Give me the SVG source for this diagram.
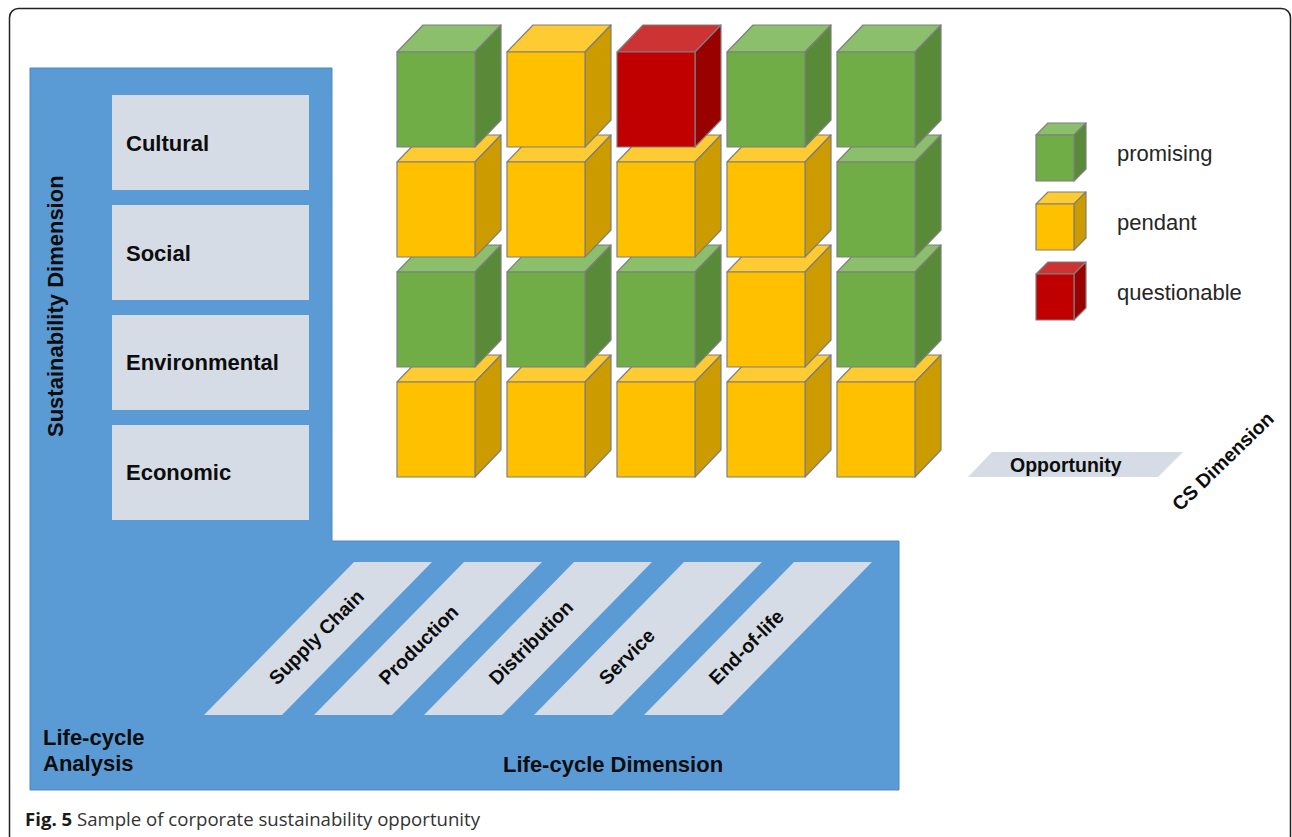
<svg xmlns="http://www.w3.org/2000/svg" width="1292" height="837" viewBox="0 0 1292 837">
<defs>
<style>
.lbl{font-family:"Liberation Sans",Arial,sans-serif;font-weight:bold;font-size:22px;fill:#0d0d0d}
.rot{font-family:"Liberation Sans",Arial,sans-serif;font-weight:bold;font-size:19.5px;fill:#0d0d0d}
.leg{font-family:"Liberation Sans",Arial,sans-serif;font-size:22px;fill:#262626}
.box{fill:#D6DCE5}
.cube polygon{stroke:#7f7f7f;stroke-width:1.2;stroke-linejoin:round}
.g .f{fill:#70AD47}.g .t{fill:#8CBF6B}.g .s{fill:#588A38}
.y .f{fill:#FFC000}.y .t{fill:#FFCB33}.y .s{fill:#CC9B00}
.r .f{fill:#C00000}.r .t{fill:#CD3333}.r .s{fill:#990000}
</style>
</defs>
<rect width="1292" height="837" fill="#ffffff"/>
<rect id="frame" x="9.5" y="8.5" width="1281" height="836" rx="9" fill="none" stroke="#222" stroke-width="1.5"/>

<g id="lifecycle-analysis">
<polygon points="30,68 332,68 332,541 899,541 899,790 30,790" fill="#5B9BD5" stroke="#4F87C0" stroke-width="1"/>
<text class="lbl" x="43" y="745">Life-cycle</text>
<text class="lbl" x="43" y="771">Analysis</text>
</g>
<g id="sustainability-dimension">
<text class="lbl" transform="translate(63,437) rotate(-90)">Sustainability Dimension</text>
</g>
<g id="cultural"><rect class="box" x="112" y="95" width="197" height="95"/><text class="lbl" x="126" y="151">Cultural</text></g>
<g id="social"><rect class="box" x="112" y="205" width="197" height="95"/><text class="lbl" x="126" y="261">Social</text></g>
<g id="environmental"><rect class="box" x="112" y="315" width="197" height="95"/><text class="lbl" x="126" y="370">Environmental</text></g>
<g id="economic"><rect class="box" x="112" y="425" width="197" height="95"/><text class="lbl" x="126" y="480">Economic</text></g>

<g id="supply-chain"><polygon class="box" points="204,715 282,715 432,562 354,562"/><text class="rot" transform="translate(277,686) rotate(-45)">Supply Chain</text></g>
<g id="production"><polygon class="box" points="314,715 392,715 542,562 464,562"/><text class="rot" transform="translate(387,686) rotate(-45)">Production</text></g>
<g id="distribution"><polygon class="box" points="424,715 502,715 652,562 574,562"/><text class="rot" transform="translate(497,686) rotate(-45)">Distribution</text></g>
<g id="service"><polygon class="box" points="534,715 612,715 762,562 684,562"/><text class="rot" transform="translate(607,686) rotate(-45)">Service</text></g>
<g id="end-of-life"><polygon class="box" points="644,715 722,715 872,562 794,562"/><text class="rot" transform="translate(717,686) rotate(-45)">End-of-life</text></g>
<g id="lifecycle-dimension"><text class="lbl" x="503" y="772">Life-cycle Dimension</text></g>

<g id="cube-grid">
<g id="c41" class="cube y" transform="translate(397,382)"><polygon class="t" points="0,0 26,-27 104,-27 78,0"/><polygon class="s" points="78,0 104,-27 104,68 78,95"/><polygon class="f" points="0,0 78,0 78,95 0,95"/></g>
<g id="c42" class="cube y" transform="translate(507,382)"><polygon class="t" points="0,0 26,-27 104,-27 78,0"/><polygon class="s" points="78,0 104,-27 104,68 78,95"/><polygon class="f" points="0,0 78,0 78,95 0,95"/></g>
<g id="c43" class="cube y" transform="translate(617,382)"><polygon class="t" points="0,0 26,-27 104,-27 78,0"/><polygon class="s" points="78,0 104,-27 104,68 78,95"/><polygon class="f" points="0,0 78,0 78,95 0,95"/></g>
<g id="c44" class="cube y" transform="translate(727,382)"><polygon class="t" points="0,0 26,-27 104,-27 78,0"/><polygon class="s" points="78,0 104,-27 104,68 78,95"/><polygon class="f" points="0,0 78,0 78,95 0,95"/></g>
<g id="c45" class="cube y" transform="translate(837,382)"><polygon class="t" points="0,0 26,-27 104,-27 78,0"/><polygon class="s" points="78,0 104,-27 104,68 78,95"/><polygon class="f" points="0,0 78,0 78,95 0,95"/></g>
<g id="c31" class="cube g" transform="translate(397,272)"><polygon class="t" points="0,0 26,-27 104,-27 78,0"/><polygon class="s" points="78,0 104,-27 104,68 78,95"/><polygon class="f" points="0,0 78,0 78,95 0,95"/></g>
<g id="c32" class="cube g" transform="translate(507,272)"><polygon class="t" points="0,0 26,-27 104,-27 78,0"/><polygon class="s" points="78,0 104,-27 104,68 78,95"/><polygon class="f" points="0,0 78,0 78,95 0,95"/></g>
<g id="c33" class="cube g" transform="translate(617,272)"><polygon class="t" points="0,0 26,-27 104,-27 78,0"/><polygon class="s" points="78,0 104,-27 104,68 78,95"/><polygon class="f" points="0,0 78,0 78,95 0,95"/></g>
<g id="c34" class="cube y" transform="translate(727,272)"><polygon class="t" points="0,0 26,-27 104,-27 78,0"/><polygon class="s" points="78,0 104,-27 104,68 78,95"/><polygon class="f" points="0,0 78,0 78,95 0,95"/></g>
<g id="c35" class="cube g" transform="translate(837,272)"><polygon class="t" points="0,0 26,-27 104,-27 78,0"/><polygon class="s" points="78,0 104,-27 104,68 78,95"/><polygon class="f" points="0,0 78,0 78,95 0,95"/></g>
<g id="c21" class="cube y" transform="translate(397,162)"><polygon class="t" points="0,0 26,-27 104,-27 78,0"/><polygon class="s" points="78,0 104,-27 104,68 78,95"/><polygon class="f" points="0,0 78,0 78,95 0,95"/></g>
<g id="c22" class="cube y" transform="translate(507,162)"><polygon class="t" points="0,0 26,-27 104,-27 78,0"/><polygon class="s" points="78,0 104,-27 104,68 78,95"/><polygon class="f" points="0,0 78,0 78,95 0,95"/></g>
<g id="c23" class="cube y" transform="translate(617,162)"><polygon class="t" points="0,0 26,-27 104,-27 78,0"/><polygon class="s" points="78,0 104,-27 104,68 78,95"/><polygon class="f" points="0,0 78,0 78,95 0,95"/></g>
<g id="c24" class="cube y" transform="translate(727,162)"><polygon class="t" points="0,0 26,-27 104,-27 78,0"/><polygon class="s" points="78,0 104,-27 104,68 78,95"/><polygon class="f" points="0,0 78,0 78,95 0,95"/></g>
<g id="c25" class="cube g" transform="translate(837,162)"><polygon class="t" points="0,0 26,-27 104,-27 78,0"/><polygon class="s" points="78,0 104,-27 104,68 78,95"/><polygon class="f" points="0,0 78,0 78,95 0,95"/></g>
<g id="c11" class="cube g" transform="translate(397,52)"><polygon class="t" points="0,0 26,-27 104,-27 78,0"/><polygon class="s" points="78,0 104,-27 104,68 78,95"/><polygon class="f" points="0,0 78,0 78,95 0,95"/></g>
<g id="c12" class="cube y" transform="translate(507,52)"><polygon class="t" points="0,0 26,-27 104,-27 78,0"/><polygon class="s" points="78,0 104,-27 104,68 78,95"/><polygon class="f" points="0,0 78,0 78,95 0,95"/></g>
<g id="c13" class="cube r" transform="translate(617,52)"><polygon class="t" points="0,0 26,-27 104,-27 78,0"/><polygon class="s" points="78,0 104,-27 104,68 78,95"/><polygon class="f" points="0,0 78,0 78,95 0,95"/></g>
<g id="c14" class="cube g" transform="translate(727,52)"><polygon class="t" points="0,0 26,-27 104,-27 78,0"/><polygon class="s" points="78,0 104,-27 104,68 78,95"/><polygon class="f" points="0,0 78,0 78,95 0,95"/></g>
<g id="c15" class="cube g" transform="translate(837,52)"><polygon class="t" points="0,0 26,-27 104,-27 78,0"/><polygon class="s" points="78,0 104,-27 104,68 78,95"/><polygon class="f" points="0,0 78,0 78,95 0,95"/></g>
</g>

<g id="legend-promising"><g class="cube g" transform="translate(1036,135)"><polygon class="t" points="0,0 12,-12 50,-12 38,0"/><polygon class="s" points="38,0 50,-12 50,34 38,46"/><polygon class="f" points="0,0 38,0 38,46 0,46"/></g><text class="leg" x="1117" y="161">promising</text></g>
<g id="legend-pendant"><g class="cube y" transform="translate(1036,204)"><polygon class="t" points="0,0 12,-12 50,-12 38,0"/><polygon class="s" points="38,0 50,-12 50,34 38,46"/><polygon class="f" points="0,0 38,0 38,46 0,46"/></g><text class="leg" x="1117" y="230">pendant</text></g>
<g id="legend-questionable"><g class="cube r" transform="translate(1036,274)"><polygon class="t" points="0,0 12,-12 50,-12 38,0"/><polygon class="s" points="38,0 50,-12 50,34 38,46"/><polygon class="f" points="0,0 38,0 38,46 0,46"/></g><text class="leg" x="1117" y="300">questionable</text></g>

<g id="opportunity"><polygon class="box" points="992,452 1183,452 1158,477 968,477"/><text class="lbl" style="font-size:19.5px" x="1010" y="472">Opportunity</text></g>
<g id="cs-dimension"><text class="rot" transform="translate(1180,512) rotate(-44)">CS Dimension</text></g>

<g id="caption"><text x="25" y="826" style="font-family:'Open Sans','Liberation Sans',sans-serif;font-size:18.6px;fill:#333"><tspan style="font-weight:bold;fill:#1a1a1a">Fig. 5</tspan> Sample of corporate sustainability opportunity</text></g>
<g id="connectors"/>
</svg>
